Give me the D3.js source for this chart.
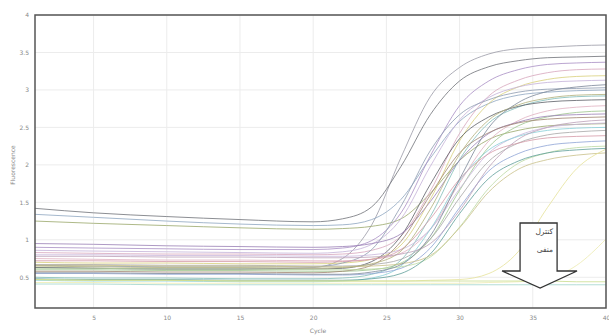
<!DOCTYPE html>
<html><head><meta charset="utf-8">
<script src="https://cdn.jsdelivr.net/npm/d3@7"></script>
<style>body{margin:0;background:#fff}svg{display:block}</style>
</head><body>
<svg id="c" width="609" height="336"></svg>
<script>
// sample cycles at which each curve's fluorescence was read
const cycles = [1,5,10,15,20,22,24,26,28,30,32,34,36,38,40];
const xTicks = [5,10,15,20,25,30,35,40];
const yTicks = [0.5,1,1.5,2,2.5,3,3.5,4];
const seriesValues = [
  [0.63,0.62,0.61,0.61,0.63,0.75,1.20,2.10,2.91,3.30,3.48,3.55,3.57,3.59,3.60],
  [1.42,1.36,1.31,1.27,1.24,1.28,1.44,1.98,2.67,3.12,3.31,3.39,3.43,3.44,3.45],
  [1.34,1.30,1.25,1.21,1.19,1.20,1.27,1.54,2.09,2.58,2.82,2.93,2.97,2.99,3.00],
  [1.25,1.22,1.19,1.16,1.14,1.15,1.18,1.28,1.62,2.06,2.34,2.46,2.52,2.54,2.55],
  [0.90,0.89,0.88,0.87,0.87,0.89,0.99,1.36,2.12,2.79,3.12,3.27,3.34,3.36,3.37],
  [0.83,0.82,0.81,0.81,0.80,0.81,0.86,1.05,1.65,2.42,2.92,3.13,3.23,3.27,3.28],
  [0.70,0.69,0.69,0.68,0.68,0.69,0.74,0.93,1.54,2.32,2.82,3.04,3.14,3.18,3.19],
  [0.86,0.85,0.84,0.83,0.82,0.84,0.94,1.28,1.98,2.60,2.90,3.04,3.10,3.12,3.13],
  [0.66,0.65,0.64,0.64,0.64,0.69,0.87,1.45,2.19,2.67,2.87,2.97,3.01,3.02,3.03],
  [0.50,0.49,0.49,0.48,0.48,0.49,0.54,0.73,1.31,2.07,2.56,2.77,2.87,2.91,2.92],
  [0.63,0.62,0.61,0.61,0.61,0.62,0.71,1.05,1.74,2.35,2.64,2.78,2.84,2.86,2.87],
  [0.75,0.74,0.73,0.73,0.72,0.72,0.74,0.82,1.14,1.76,2.32,2.59,2.72,2.77,2.79],
  [0.60,0.60,0.59,0.59,0.58,0.58,0.60,0.69,1.01,1.66,2.24,2.52,2.64,2.70,2.72],
  [0.95,0.94,0.92,0.91,0.90,0.91,0.95,1.08,1.51,2.06,2.42,2.57,2.65,2.67,2.68],
  [0.58,0.58,0.57,0.57,0.56,0.58,0.66,0.98,1.60,2.16,2.43,2.56,2.61,2.63,2.64],
  [0.80,0.80,0.79,0.79,0.78,0.78,0.80,0.87,1.14,1.68,2.16,2.39,2.50,2.54,2.56],
  [0.46,0.45,0.45,0.44,0.44,0.45,0.49,0.65,1.14,1.79,2.20,2.38,2.46,2.49,2.50],
  [0.67,0.67,0.66,0.66,0.65,0.65,0.67,0.74,1.01,1.56,2.05,2.29,2.40,2.44,2.46],
  [0.72,0.72,0.71,0.71,0.70,0.71,0.74,0.87,1.28,1.81,2.15,2.29,2.36,2.38,2.39],
  [0.55,0.55,0.54,0.54,0.53,0.53,0.55,0.62,0.89,1.43,1.92,2.15,2.26,2.30,2.32],
  [0.62,0.62,0.61,0.61,0.60,0.60,0.61,0.64,0.77,1.17,1.69,2.02,2.16,2.23,2.25],
  [0.48,0.47,0.47,0.46,0.46,0.46,0.48,0.55,0.81,1.35,1.82,2.05,2.16,2.20,2.22],
  [0.66,0.66,0.65,0.65,0.64,0.64,0.65,0.68,0.79,1.16,1.64,1.94,2.07,2.13,2.16],
  [0.47,0.46,0.46,0.45,0.45,0.45,0.45,0.45,0.46,0.47,0.55,0.84,1.43,1.95,2.21],
  [0.43,0.43,0.42,0.42,0.42,0.42,0.42,0.42,0.42,0.42,0.43,0.44,0.48,0.66,1.01],
  [0.47,0.46,0.46,0.45,0.45,0.45,0.45,0.45,0.45,0.45,0.45,0.45,0.45,0.44,0.44],
  [0.41,0.41,0.40,0.40,0.40,0.40,0.40,0.40,0.40,0.40,0.40,0.40,0.40,0.40,0.40],
  [0.65,0.64,0.63,0.63,0.62,0.63,0.68,0.85,1.41,2.14,2.60,2.80,2.89,2.93,2.94],
  [0.78,0.78,0.77,0.77,0.76,0.76,0.77,0.81,0.95,1.39,1.97,2.34,2.50,2.57,2.60],
  [0.56,0.56,0.55,0.55,0.54,0.54,0.57,0.67,1.05,1.81,2.50,2.83,2.98,3.04,3.07]
];
const seriesColors = ["#9a9aa6","#6f7278","#8fa6c0","#9aa86a","#a98fc4","#d7a6bd","#d8cf7a","#c4b2d8",
  "#8d9bb0","#7fbcb8","#5d5f66","#e0b0c0","#9cc48c","#9a7fb5","#a08470","#c9b6dc","#88cfd8","#a8a8a8",
  "#d49aa8","#8ea4d6","#bcd9a2","#5f9f9a","#c9c08a","#e6e29a","#ecebb0","#c8dc8c","#9fd4cc","#b2b07a",
  "#bba0b8","#7c8798"];
const xTitle = "Cycle";
const yTitle = "Fluorescence";
const arrowLines = ["کنترل","منفی"];

const svg = d3.select("#c");
const L = 35, R = 606, T = 15, B = 308;
const x = d3.scaleLinear().domain([1,40]).range([L,R]);
const y = d3.scaleLinear().domain([0.09,4]).range([B,T]);

// grid
svg.append("g").selectAll("line").data(xTicks).join("line")
  .attr("x1",d=>x(d)).attr("x2",d=>x(d)).attr("y1",T).attr("y2",B)
  .attr("stroke","#ececec").attr("stroke-width",1);
svg.append("g").selectAll("line").data(yTicks).join("line")
  .attr("x1",L).attr("x2",R).attr("y1",d=>y(d)).attr("y2",d=>y(d))
  .attr("stroke","#ececec").attr("stroke-width",1);

svg.append("clipPath").attr("id","clip").append("rect")
  .attr("x",L).attr("y",T).attr("width",R-L).attr("height",B-T);

const line = d3.line().x((d,i)=>x(cycles[i])).y(d=>y(d)).curve(d3.curveMonotoneX);
svg.append("g").attr("clip-path","url(#clip)").selectAll("path").data(seriesValues).join("path")
  .attr("d",line).attr("fill","none")
  .attr("stroke",(d,i)=>seriesColors[i]).attr("stroke-width",1).attr("stroke-opacity",0.8);

// frame
svg.append("rect").attr("x",L).attr("y",T).attr("width",R-L).attr("height",B-T)
  .attr("fill","none").attr("stroke","#555").attr("stroke-width",1.5);

// axes
const xa = svg.append("g").attr("transform",`translate(0,${B+6})`)
  .call(d3.axisBottom(x).tickValues(xTicks).tickSize(0).tickPadding(2).tickFormat(d=>String(d)));
const ya = svg.append("g").attr("transform",`translate(${L-4},0)`)
  .call(d3.axisLeft(y).tickValues(yTicks).tickSize(0).tickPadding(2).tickFormat(d=>String(d)));
[xa,ya].forEach(a=>{a.select(".domain").remove();
  a.selectAll("text").attr("fill","#888").attr("font-size",6).attr("font-family","DejaVu Sans");});

svg.append("text").attr("x",318).attr("y",333).attr("text-anchor","middle")
  .attr("font-size",6).attr("font-family","DejaVu Sans").attr("fill","#888").text(xTitle);
svg.append("text").attr("transform","translate(15,165) rotate(-90)").attr("text-anchor","middle")
  .attr("font-size",6).attr("font-family","DejaVu Sans").attr("fill","#888").text(yTitle);

// arrow annotation
const ax0 = x(34.13), ax1 = x(36.66), hx0 = x(32.9), hx1 = x(38.02), tipX = x(35.5);
const ay0 = y(1.224), ay1 = y(0.584), tipY = y(0.357);
svg.append("polygon")
  .attr("points",[[ax0,ay0],[ax1,ay0],[ax1,ay1],[hx1,ay1],[tipX,tipY],[hx0,ay1],[ax0,ay1]].map(p=>p.join(",")).join(" "))
  .attr("fill","#fff").attr("stroke","#333").attr("stroke-width",1.3);
svg.append("g").selectAll("text").data(arrowLines).join("text")
  .attr("x",ax1-4).attr("y",(d,i)=>ay0+11+i*18).attr("text-anchor","start")
  .attr("direction","rtl").attr("font-size",7.5).attr("font-family","DejaVu Sans")
  .attr("fill","#444").text(d=>d);
</script>
</body></html>
